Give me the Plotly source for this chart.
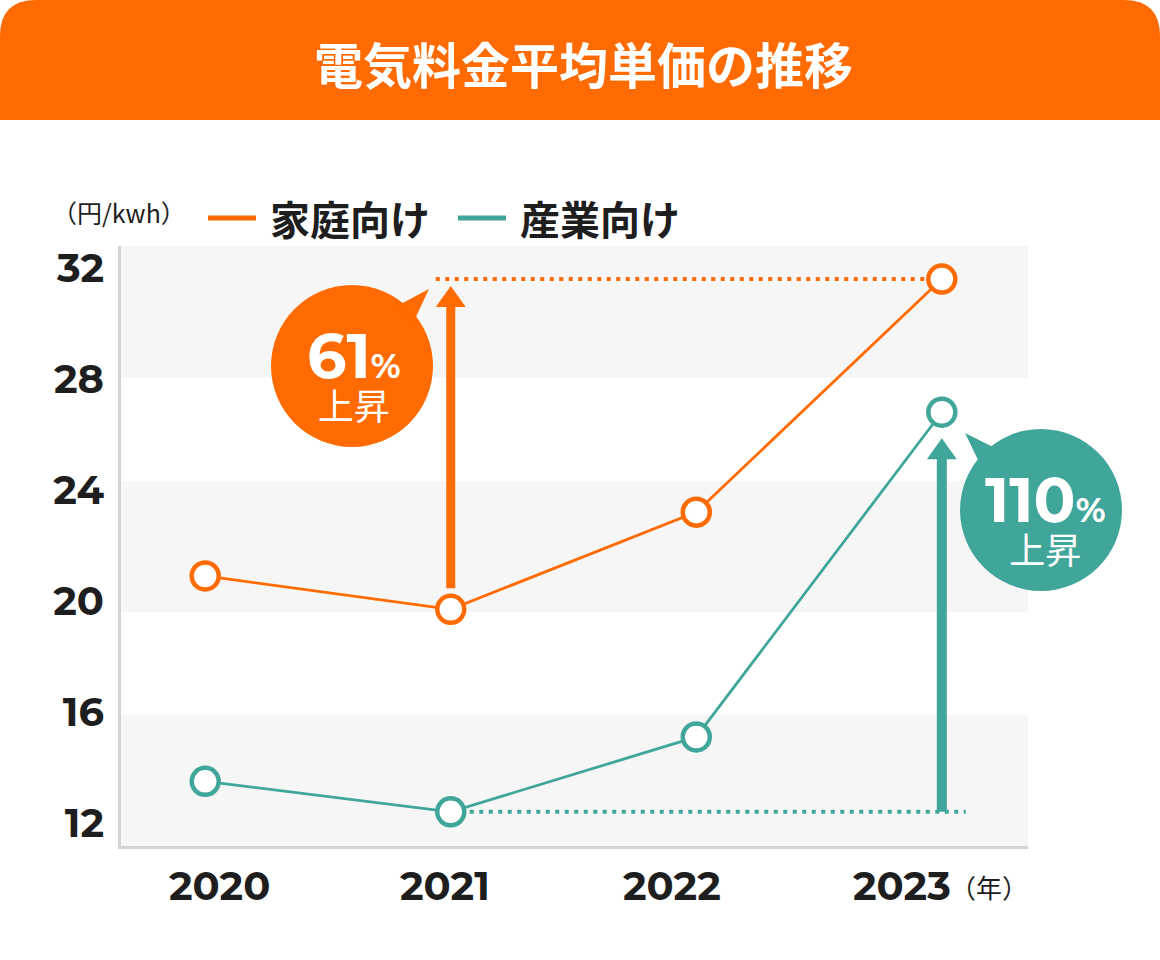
import plotly.graph_objects as go

# ---------------- data ----------------
YEARS = ["2020", "2021", "2022", "2023"]
HOME = [20.9, 19.7, 23.2, 31.6]        # 家庭向け (円/kwh)
INDUSTRY = [13.5, 12.4, 15.1, 26.8]    # 産業向け (円/kwh)
Y_TICKS = [12, 16, 20, 24, 28, 32]
SERIES_NAMES = ["家庭向け", "産業向け"]
HOME_RISE = "61"
IND_RISE = "110"
RISE_WORD = "上昇"
UNIT_LABEL = "（円/kwh）"
YEAR_UNIT = "（年）"
TITLE = "電気料金平均単価の推移"

# ---------------- style / layout ----------------
ORANGE = "#FF6B00"
TEAL = "#40A69A"
BAND = "#F6F6F6"
AXIS = "#D3D3D3"
TXT = "#1E1E1E"
NUM_FONT = "Montserrat, Inter, sans-serif"
JP_FONT = "Noto Sans CJK JP, sans-serif"

W, H = 1160, 960
ML, MR, MT, MB = 121, 132, 246, 114
PW, PH = W - ML - MR, H - MT - MB
Y_RANGE = [11.17, 32.79]
X_RANGE = [-0.343, 3.351]
PPU_Y = PH / (Y_RANGE[1] - Y_RANGE[0])
PPU_X = PW / (X_RANGE[1] - X_RANGE[0])


def px(x):
    return (x - ML) / PW


def py(y):
    return (H - MB - y) / PH


X = list(range(len(YEARS)))

fig = go.Figure()
for vals, color, name in [(HOME, ORANGE, SERIES_NAMES[0]), (INDUSTRY, TEAL, SERIES_NAMES[1])]:
    fig.add_trace(go.Scatter(
        x=X, y=vals, name=name, mode="lines+markers",
        line=dict(color=color, width=2.8),
        marker=dict(size=27, color="white", line=dict(color=color, width=4.5)),
        cliponaxis=False, showlegend=False, hoverinfo="skip",
    ))

shapes = []
# background bands
for y0, y1 in [(28.05, Y_RANGE[1]), (19.6, 24.3), (Y_RANGE[0], 15.9)]:
    shapes.append(dict(type="rect", xref="paper", yref="y", x0=0, x1=1, y0=y0, y1=y1,
                       fillcolor=BAND, line=dict(width=0), layer="below"))
# dotted reference lines
shapes.append(dict(type="line", xref="x", yref="y", x0=X[1] - 15 / PPU_X, x1=X[3], y0=HOME[3], y1=HOME[3],
                   line=dict(color=ORANGE, width=4, dash="4px,5.5px"), layer="below"))
shapes.append(dict(type="line", xref="x", yref="y", x0=X[1], x1=X[3] + 24 / PPU_X, y0=INDUSTRY[1], y1=INDUSTRY[1],
                   line=dict(color=TEAL, width=4, dash="4px,5.5px"), layer="below"))
# arrows: shafts
shapes.append(dict(type="line", xref="x", yref="y", x0=X[1], x1=X[1],
                   y0=HOME[1] + 21 / PPU_Y, y1=HOME[3] - 26 / PPU_Y,
                   line=dict(color=ORANGE, width=9), layer="below"))
shapes.append(dict(type="line", xref="x", yref="y", x0=X[3], x1=X[3],
                   y0=INDUSTRY[1], y1=INDUSTRY[3] - 45 / PPU_Y,
                   line=dict(color=TEAL, width=10), layer="below"))
# arrow heads (pixel offsets around data anchor)
shapes.append(dict(type="path", xref="x", yref="y", xsizemode="pixel", ysizemode="pixel",
                   xanchor=X[1], yanchor=HOME[3], path="M -15,-28 L 0,-7 L 15,-28 Z",
                   fillcolor=ORANGE, line=dict(width=0), layer="below"))
shapes.append(dict(type="path", xref="x", yref="y", xsizemode="pixel", ysizemode="pixel",
                   xanchor=X[3], yanchor=INDUSTRY[3], path="M -15,-47 L 0,-26 L 15,-47 Z",
                   fillcolor=TEAL, line=dict(width=0), layer="below"))
# speech bubbles
for cx, cy, color, tail in [(352, 366, ORANGE, "M 45,60 L 77,77 L 62,45 Z"),
                            (1041, 510, TEAL, "M -62,48 L -76,77 L -46,62 Z")]:
    shapes.append(dict(type="circle", xref="paper", yref="paper", xsizemode="pixel", ysizemode="pixel",
                       xanchor=px(cx), yanchor=py(cy), x0=-81, x1=81, y0=-81, y1=81,
                       fillcolor=color, line=dict(width=0), layer="above"))
    shapes.append(dict(type="path", xref="paper", yref="paper", xsizemode="pixel", ysizemode="pixel",
                       xanchor=px(cx), yanchor=py(cy), path=tail,
                       fillcolor=color, line=dict(width=0), layer="above"))
# title banner with rounded top corners
shapes.append(dict(type="path", xref="paper", yref="paper", xsizemode="pixel", ysizemode="pixel",
                   xanchor=0, yanchor=1,
                   path="M -121,126 L -121,210 Q -121,246 -85,246 L 1003,246 Q 1039,246 1039,210 L 1039,126 Z",
                   fillcolor=ORANGE, line=dict(width=0), layer="above"))
# legend swatches
for x0, x1, color in [(208, 256, ORANGE), (458, 506, TEAL)]:
    shapes.append(dict(type="line", xref="paper", yref="paper", x0=px(x0), x1=px(x1), y0=py(218), y1=py(218),
                       line=dict(color=color, width=5)))

ann = []


def label(text, x, y, size, color=TXT, family=JP_FONT, xanchor="center"):
    ann.append(dict(text=text, xref="paper", yref="paper", x=px(x), y=py(y),
                    xanchor=xanchor, yanchor="middle", showarrow=False,
                    font=dict(family=family, size=size, color=color)))


label(f"<b>{TITLE}</b>", 583, 62, 49, color="white")
label(UNIT_LABEL, 119, 212, 25)
label(f"<b>{SERIES_NAMES[0]}</b>", 268, 218, 40, xanchor="left")
label(f"<b>{SERIES_NAMES[1]}</b>", 518, 218, 40, xanchor="left")
# x tick labels
TICK_XSHIFT = [14, -6, -24, -40]
for xi, lab, sh in zip(X, YEARS, TICK_XSHIFT):
    ann.append(dict(text=f"<b>{lab}</b>", xref="x", yref="paper", x=xi, y=0,
                    xanchor="center", yanchor="middle",
                    xshift=sh, yshift=-39, showarrow=False,
                    font=dict(family=NUM_FONT, size=40, color=TXT)))
label(YEAR_UNIT, 989, 886, 26)
# bubble texts (number + % on first line, 上昇 on second line)
NUM_SPAN = "<span style='font-family:Montserrat, Inter, sans-serif;font-size:{fs}px'><b>{t}</b></span>"
for cx, cy, num in [(354, 374, HOME_RISE), (1045, 518, IND_RISE)]:
    txt = (NUM_SPAN.format(fs=62, t=num) + NUM_SPAN.format(fs=34, t="%")
           + f"<br><span style='font-size:36px'>{RISE_WORD}</span>")
    label(txt, cx, cy, 32, color="white")

fig.update_layout(
    width=W, height=H, margin=dict(l=ML, r=MR, t=MT, b=MB),
    paper_bgcolor="white", plot_bgcolor="white",
    shapes=shapes, annotations=ann, showlegend=False,
    xaxis=dict(range=X_RANGE, showgrid=False, zeroline=False, showticklabels=False,
               showline=True, linecolor=AXIS, linewidth=3, ticks=""),
    yaxis=dict(range=Y_RANGE, tickvals=Y_TICKS, showgrid=False, zeroline=False,
               showline=True, linecolor=AXIS, linewidth=3, ticks="", ticklabelstandoff=6,
               tickfont=dict(family=NUM_FONT, size=40, color=TXT, weight="bold")),
)

fig.write_html("out.html", config={"displayModeBar": False},
               post_script="document.body.style.margin='0';")
